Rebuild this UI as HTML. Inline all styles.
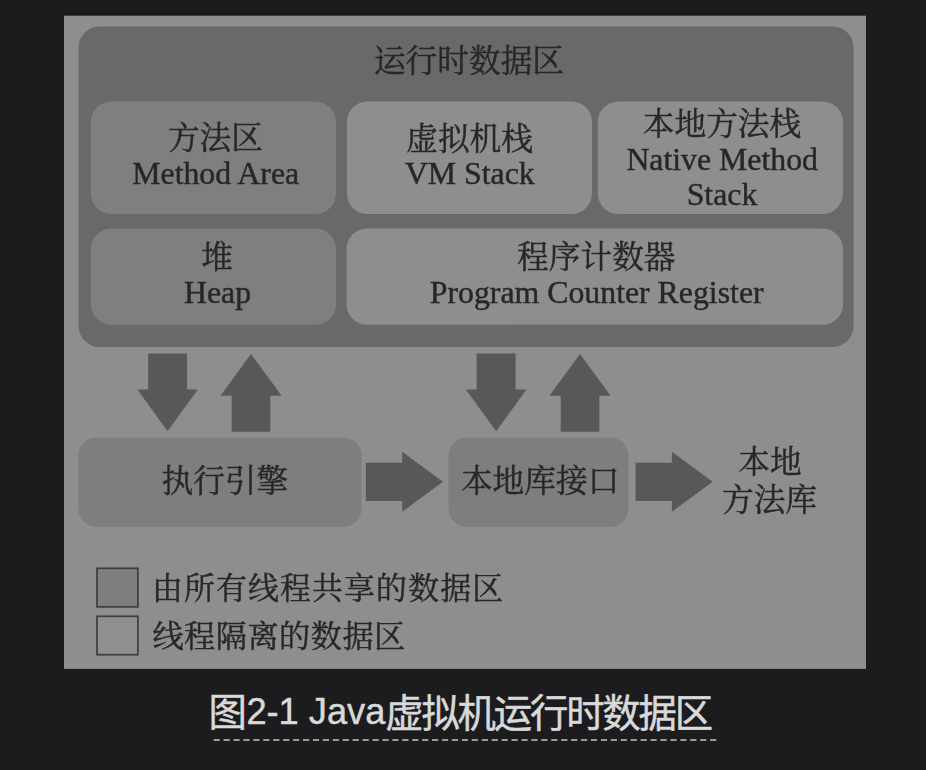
<!DOCTYPE html>
<html lang="zh-CN">
<head>
<meta charset="utf-8">
<title>图2-1 Java虚拟机运行时数据区</title>
<style>
html,body{margin:0;padding:0;background:#1c1c1e;}
body{width:926px;height:770px;overflow:hidden;font-family:"Liberation Serif","Noto Serif CJK SC",serif;}
svg{display:block;}
svg text{font-family:"Liberation Serif","Noto Serif CJK SC",serif;}
svg #caption text{font-family:"Liberation Sans","Noto Sans CJK SC",sans-serif;}
</style>
</head>
<body>
<svg width="926" height="770" viewBox="0 0 926 770">
<defs>
<filter id="soft2" x="0" y="0" width="926" height="770" filterUnits="userSpaceOnUse"><feGaussianBlur stdDeviation="0.45"/></filter>
<filter id="soft" x="0" y="0" width="926" height="770" filterUnits="userSpaceOnUse"><feGaussianBlur stdDeviation="0.55"/></filter>
</defs>
<rect width="926" height="770" fill="#1c1c1e"/>
<rect x="64.00" y="15.70" width="802.00" height="653.20" rx="0.00" fill="#8e8e90"/>
<g id="shapes" filter="url(#soft2)">
<rect x="78.50" y="26.50" width="775.10" height="320.50" rx="21.00" fill="#69696a"/>
<rect x="90.80" y="101.40" width="245.20" height="112.60" rx="20.50" fill="#7f7f80"/>
<rect x="346.90" y="101.40" width="245.10" height="112.60" rx="20.50" fill="#8e8e90"/>
<rect x="597.80" y="101.40" width="245.20" height="112.60" rx="20.50" fill="#8e8e90"/>
<rect x="90.80" y="228.50" width="245.20" height="96.20" rx="20.50" fill="#7f7f80"/>
<rect x="346.50" y="228.50" width="496.50" height="96.20" rx="20.50" fill="#8e8e90"/>
<rect x="78.20" y="437.40" width="283.30" height="89.60" rx="18.50" fill="#7e7e7f"/>
<rect x="448.50" y="437.40" width="179.90" height="89.60" rx="18.50" fill="#7e7e7f"/>
<polygon points="148.1,353.6 187.1,353.6 187.1,389.6 197.9,389.6 167.6,431.3 137.3,389.6 148.1,389.6" fill="#59595a"/>
<polygon points="251.0,353.9 281.6,395.7 270.3,395.7 270.3,431.7 231.7,431.7 231.7,395.7 220.4,395.7" fill="#59595a"/>
<polygon points="476.6,353.6 515.6,353.6 515.6,389.6 526.4,389.6 496.1,431.3 465.8,389.6 476.6,389.6" fill="#59595a"/>
<polygon points="580.0,353.9 610.6,395.7 599.3,395.7 599.3,431.7 560.7,431.7 560.7,395.7 549.4,395.7" fill="#59595a"/>
<polygon points="365.8,462.7 402.2,462.7 402.2,451.8 443.0,481.8 402.2,511.8 402.2,500.9 365.8,500.9" fill="#59595a"/>
<polygon points="635.5,462.7 671.9,462.7 671.9,451.8 712.7,481.8 671.9,511.8 671.9,500.9 635.5,500.9" fill="#59595a"/>
<rect x="97" y="568.3" width="40.9" height="38.5" fill="#7e7e7e" stroke="#3c3c3c" stroke-width="1.7"/>
<rect x="97" y="616.3" width="40.9" height="38.4" fill="#8f8f91" stroke="#3c3c3c" stroke-width="1.7"/>
</g>
<g id="labels" fill="#282828" stroke="#282828" stroke-width="0.45" filter="url(#soft)">
<text x="373.90" y="71.53" font-size="31.70">运行时数据区</text>
<text x="167.93" y="149.28" font-size="31.70">方法区</text>
<text x="215.70" y="184.00" font-size="31.80" text-anchor="middle">Method Area</text>
<text x="406.19" y="150.03" font-size="31.70">虚拟机栈</text>
<text x="469.80" y="184.00" font-size="31.80" text-anchor="middle">VM Stack</text>
<text x="642.81" y="135.48" font-size="31.70">本地方法栈</text>
<text x="722.20" y="169.70" font-size="31.80" text-anchor="middle">Native Method</text>
<text x="722.00" y="205.30" font-size="31.80" text-anchor="middle">Stack</text>
<text x="201.17" y="268.14" font-size="31.70">堆</text>
<text x="217.60" y="303.00" font-size="31.80" text-anchor="middle">Heap</text>
<text x="517.10" y="268.01" font-size="31.70">程序计数器</text>
<text x="596.70" y="303.00" font-size="31.80" text-anchor="middle">Program Counter Register</text>
<text x="161.46" y="492.11" font-size="31.70">执行引擎</text>
<text x="460.93" y="492.18" font-size="31.70">本地库接口</text>
<text x="738.27" y="472.59" font-size="31.70">本地</text>
<text x="721.99" y="511.38" font-size="31.70">方法库</text>
<text x="151.90" y="599.40" font-size="30.90" letter-spacing="1.14">由所有线程共享的数据区</text>
<text x="152.40" y="647.30" font-size="31.20" letter-spacing="0.48">线程隔离的数据区</text>
</g>
<g id="caption" fill="#d9d9d9" stroke="#d9d9d9" stroke-linejoin="round">
<text x="208.60" y="726.20" font-size="38.40" stroke-width="0.47">图</text>
<text x="246.40" y="724.00" font-size="37" stroke-width="0.45" textLength="139" lengthAdjust="spacingAndGlyphs">2-1 Java</text>
<text x="385.20" y="727.00" font-size="38.40" stroke-width="0.47" letter-spacing="-2.2">虚拟机运行时数据区</text>
<line x1="213.6" y1="740" x2="716.4" y2="740" fill="none" stroke="#9a9a9a" stroke-width="2" stroke-dasharray="6.2 3.73"/>
</g>
</svg>
</body>
</html>
